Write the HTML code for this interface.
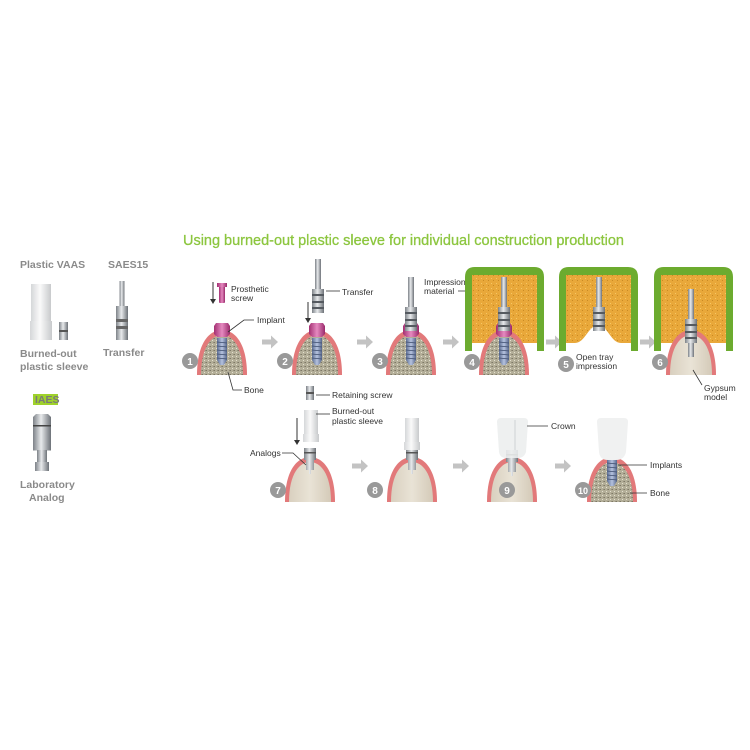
<!DOCTYPE html>
<html><head><meta charset="utf-8"><style>
html,body{margin:0;padding:0;background:#fff}
svg{display:block}
text{font-family:"Liberation Sans",sans-serif}
</style></head><body>
<svg width="750" height="750" viewBox="0 0 750 750" xmlns="http://www.w3.org/2000/svg">
<defs>
<pattern id="bone" width="4" height="4" patternUnits="userSpaceOnUse">
<rect width="4" height="4" fill="#b3ae98"/><rect x="0" y="0" width="1" height="1" fill="#7d7866"/><rect x="2" y="2" width="1" height="1" fill="#e4e0cf"/><rect x="3" y="0" width="1" height="1" fill="#958f7b"/>
</pattern>
<pattern id="foam" width="5" height="5" patternUnits="userSpaceOnUse">
<rect width="5" height="5" fill="#e9a83a"/><rect x="1" y="1" width="1" height="1" fill="#f6c766"/><rect x="3" y="3" width="1" height="1" fill="#c98a24"/>
</pattern>
<linearGradient id="metal" x1="0" x2="1"><stop offset="0" stop-color="#7d8288"/><stop offset="0.45" stop-color="#e8eaec"/><stop offset="1" stop-color="#6d7278"/></linearGradient>
<linearGradient id="blue" x1="0" x2="1"><stop offset="0" stop-color="#5d6f95"/><stop offset="0.5" stop-color="#b5c2de"/><stop offset="1" stop-color="#56678c"/></linearGradient>
<linearGradient id="pink" x1="0" x2="1"><stop offset="0" stop-color="#a32f72"/><stop offset="0.5" stop-color="#e58ac0"/><stop offset="1" stop-color="#9a2a6b"/></linearGradient>
<linearGradient id="white" x1="0" x2="1"><stop offset="0" stop-color="#d5d7d9"/><stop offset="0.45" stop-color="#fafafa"/><stop offset="1" stop-color="#c8cacc"/></linearGradient>
<linearGradient id="gyp" x1="0" x2="1"><stop offset="0" stop-color="#d9d0bf"/><stop offset="0.5" stop-color="#e9e3d6"/><stop offset="1" stop-color="#d4cab8"/></linearGradient>
<g id="gumB"><path d="M-25,45 C-25,12 -12,0 0,0 C12,0 25,12 25,45 Z" fill="#e2797a"/><path d="M-21,45 C-21,16 -10,5 0,5 C10,5 21,16 21,45 Z" fill="url(#bone)"/></g>
<g id="gumG"><path d="M-25,45 C-25,12 -12,0 0,0 C12,0 25,12 25,45 Z" fill="#e2797a"/><path d="M-21,45 C-21,16 -10,5 0,5 C10,5 21,16 21,45 Z" fill="url(#gyp)"/></g>
<g id="impl"><path d="M-5,0 h10 v22 l-3,5 h-4 l-3,-5 z" fill="url(#blue)"/><g stroke="#3e4d6e" stroke-width="0.8"><line x1="-5" y1="4" x2="5" y2="5"/><line x1="-5" y1="8" x2="5" y2="9"/><line x1="-5" y1="12" x2="5" y2="13"/><line x1="-5" y1="16" x2="5" y2="17"/><line x1="-5" y1="20" x2="5" y2="21"/></g></g>
<g id="abut"><path d="M-8,3 l2,-3 h12 l2,3 v8 l-3,3 h-10 l-3,-3 z" fill="url(#pink)"/></g>
<g id="transfer"><rect x="-3" y="0" width="6" height="30" fill="url(#metal)"/><rect x="-6" y="30" width="12" height="24" fill="url(#metal)"/><g fill="#555a60"><rect x="-6" y="35" width="12" height="2"/><rect x="-6" y="42" width="12" height="2"/><rect x="-6" y="48" width="12" height="2"/></g></g>
<g id="analog"><path d="M-6,0 h12 v12 h-2 v10 h-3 v4 h-2 v-4 h-3 v-10 h-2 z" fill="url(#metal)"/><rect x="-6" y="4" width="12" height="1.5" fill="#555"/></g>
<g id="arrow"><path d="M0,-2.5 h9 v-4 l7,6.5 l-7,6.5 v-4 h-9 z" fill="#c3c3c3"/></g>
<g id="tray"><path d="M0,84 V10 Q0,0 10,0 H69 Q79,0 79,10 V84 H72 V12 Q72,8 68,8 H11 Q7,8 7,12 V84 Z" fill="#6cab2f"/><rect x="7" y="8" width="65" height="68" fill="url(#foam)"/></g>
</defs>

<text x="183" y="245" font-size="14.5" fill="#8cc63f" stroke="#8cc63f" stroke-width="0.3" textLength="441">Using burned-out plastic sleeve for individual construction production</text>

<g font-size="10.5" font-weight="bold" fill="#8a8a8a">
<text x="20" y="268">Plastic VAAS</text>
<text x="108" y="268">SAES15</text>
<text x="20" y="357">Burned-out</text>
<text x="20" y="370">plastic sleeve</text>
<text x="103" y="356">Transfer</text>
<rect x="33" y="394" width="25" height="11" fill="#9fd22b"/>
<text x="35" y="403" fill="#7a7a7a">IAES</text>
<text x="20" y="488">Laboratory</text>
<text x="29" y="501">Analog</text>
</g>
<rect x="31" y="284" width="20" height="37" fill="url(#white)"/>
<rect x="30" y="321" width="22" height="19" fill="url(#white)"/>
<rect x="59" y="322" width="9" height="18" fill="url(#metal)"/><rect x="59" y="330" width="9" height="2" fill="#555"/>
<g transform="translate(122,281)"><rect x="-2.5" y="0" width="5" height="25" fill="url(#metal)"/><rect x="-6" y="25" width="12" height="34" fill="url(#metal)"/><rect x="-6" y="38" width="12" height="3" fill="#666"/><rect x="-6" y="45" width="12" height="3" fill="#666"/></g>
<g transform="translate(42,414)"><path d="M-9,3 l3,-3 h12 l3,3 v8 h-18 z" fill="url(#metal)"/><rect x="-9" y="11" width="18" height="1.5" fill="#444"/><rect x="-9" y="12.5" width="18" height="24" fill="url(#metal)"/><rect x="-5" y="36" width="10" height="12" fill="url(#metal)"/><rect x="-7" y="48" width="14" height="9" fill="url(#metal)"/></g>

<use href="#gumB" x="222" y="330"/>
<use href="#impl" x="222" y="338"/>
<use href="#abut" x="222" y="323"/>
<rect x="219" y="283" width="6" height="20" rx="1" fill="url(#pink)"/><rect x="217" y="283" width="10" height="4" fill="url(#pink)"/>
<path d="M213,282 V301" stroke="#333" stroke-width="1"/><path d="M210,299 l3,5 l3,-5z" fill="#333"/>
<circle cx="190" cy="361" r="8" fill="#999"/><text x="190" y="365" font-size="10" fill="#fff" text-anchor="middle" font-weight="bold">1</text>
<g font-size="8.5" fill="#333">
<text x="231" y="292">Prosthetic</text><text x="231" y="301">screw</text>
<text x="257" y="323">Implant</text>
<text x="244" y="393">Bone</text>
</g>
<path d="M254,320 H244 L228,332" stroke="#333" stroke-width="0.8" fill="none"/>
<path d="M242,390 H233 L228,372" stroke="#333" stroke-width="0.8" fill="none"/>
<use href="#arrow" x="262" y="342"/>

<use href="#gumB" x="317" y="330"/>
<use href="#impl" x="317" y="338"/>
<use href="#abut" x="317" y="323"/>
<use href="#transfer" x="318" y="259"/>
<path d="M308,302 V320" stroke="#333" stroke-width="1"/><path d="M305,318 l3,5 l3,-5z" fill="#333"/>
<circle cx="285" cy="361" r="8" fill="#999"/><text x="285" y="365" font-size="10" fill="#fff" text-anchor="middle" font-weight="bold">2</text>
<path d="M326,291 H340" stroke="#333" stroke-width="0.8"/>
<text x="342" y="295" font-size="8.5" fill="#333">Transfer</text>
<use href="#arrow" x="357" y="342"/>

<use href="#gumB" x="411" y="330"/>
<use href="#impl" x="411" y="338"/>
<use href="#abut" x="411" y="323"/>
<use href="#transfer" x="411" y="277"/>
<circle cx="380" cy="361" r="8" fill="#999"/><text x="380" y="365" font-size="10" fill="#fff" text-anchor="middle" font-weight="bold">3</text>
<text x="424" y="285" font-size="8.5" fill="#333">Impression</text>
<text x="424" y="294" font-size="8.5" fill="#333">material</text>
<path d="M458,291 H478" stroke="#333" stroke-width="0.8"/>
<use href="#arrow" x="443" y="342"/>

<use href="#tray" x="465" y="267"/>
<use href="#gumB" x="504" y="330"/>
<use href="#impl" x="504" y="338"/>
<use href="#abut" x="504" y="323"/>
<use href="#transfer" x="504" y="277"/>
<circle cx="472" cy="362" r="8" fill="#999"/><text x="472" y="366" font-size="10" fill="#fff" text-anchor="middle" font-weight="bold">4</text>
<use href="#arrow" x="546" y="342"/>

<use href="#tray" x="559" y="267"/>
<path d="M575,343 C585,343 588,326 598,325 C608,326 611,343 621,343 Z" fill="#fff"/>
<rect x="580" y="343" width="40" height="2" fill="#fff"/>
<use href="#transfer" x="599" y="277"/>
<circle cx="566" cy="364" r="8" fill="#999"/><text x="566" y="368" font-size="10" fill="#fff" text-anchor="middle" font-weight="bold">5</text>
<text x="576" y="360" font-size="8.5" fill="#333">Open tray</text>
<text x="576" y="369" font-size="8.5" fill="#333">impression</text>
<use href="#arrow" x="640" y="342"/>

<use href="#tray" x="654" y="267"/>
<use href="#gumG" x="691" y="330"/>
<rect x="688" y="337" width="6" height="20" fill="url(#metal)"/>
<use href="#transfer" x="691" y="289"/>
<circle cx="660" cy="362" r="8" fill="#999"/><text x="660" y="366" font-size="10" fill="#fff" text-anchor="middle" font-weight="bold">6</text>
<path d="M693,370 L702,385" stroke="#333" stroke-width="0.8"/>
<text x="704" y="391" font-size="8.5" fill="#333">Gypsum</text>
<text x="704" y="400" font-size="8.5" fill="#333">model</text>

<rect x="306" y="386" width="8" height="14" fill="url(#metal)"/><rect x="306" y="392" width="8" height="2" fill="#555"/>
<path d="M316,395 H330" stroke="#333" stroke-width="0.8"/>
<text x="332" y="398" font-size="8.5" fill="#333">Retaining screw</text>
<rect x="304" y="410" width="14" height="24" fill="url(#white)"/><rect x="303" y="434" width="16" height="8" fill="url(#white)"/>
<path d="M316,414 H330" stroke="#333" stroke-width="0.8"/>
<text x="332" y="414" font-size="8.5" fill="#333">Burned-out</text>
<text x="332" y="424" font-size="8.5" fill="#333">plastic sleeve</text>
<path d="M297,418 V442" stroke="#333" stroke-width="1"/><path d="M294,440 l3,5 l3,-5z" fill="#333"/>
<use href="#gumG" x="310" y="457"/>
<use href="#analog" x="310" y="448"/>
<text x="250" y="456" font-size="8.5" fill="#333">Analogs</text>
<path d="M282,453 H293 L306,465" stroke="#333" stroke-width="0.8" fill="none"/>
<circle cx="278" cy="490" r="8" fill="#999"/><text x="278" y="494" font-size="10" fill="#fff" text-anchor="middle" font-weight="bold">7</text>
<use href="#arrow" x="352" y="466"/>

<use href="#gumG" x="412" y="457"/>
<use href="#analog" x="412" y="448"/>
<rect x="405" y="418" width="14" height="24" fill="url(#white)"/><rect x="404" y="442" width="16" height="8" fill="url(#white)"/>
<circle cx="375" cy="490" r="8" fill="#999"/><text x="375" y="494" font-size="10" fill="#fff" text-anchor="middle" font-weight="bold">8</text>
<use href="#arrow" x="453" y="466"/>

<use href="#gumG" x="512" y="457"/>
<use href="#analog" x="512" y="450"/>
<path d="M497,422 Q497,418 501,418 H524 Q528,418 528,422 L526,452 Q524,458 518,458 H506 Q500,458 499,452 Z" fill="#eceeee" opacity="0.9"/>
<path d="M515,420 V450" stroke="#cfd2d3" stroke-width="1"/>
<circle cx="507" cy="490" r="8" fill="#999"/><text x="507" y="494" font-size="10" fill="#fff" text-anchor="middle" font-weight="bold">9</text>
<path d="M527,426 H548" stroke="#333" stroke-width="0.8"/>
<text x="551" y="429" font-size="8.5" fill="#333">Crown</text>
<use href="#arrow" x="555" y="466"/>

<use href="#gumB" x="612" y="457"/>
<use href="#impl" x="612" y="459"/>
<path d="M597,422 Q597,418 601,418 H624 Q628,418 628,422 L626,452 Q624,460 616,460 H608 Q600,460 599,452 Z" fill="#f0f1f1"/>
<circle cx="583" cy="490" r="8" fill="#999"/><text x="583" y="494" font-size="9" fill="#fff" text-anchor="middle" font-weight="bold">10</text>
<path d="M618,465 H647" stroke="#333" stroke-width="0.8"/>
<text x="650" y="468" font-size="8.5" fill="#333">Implants</text>
<path d="M630,493 H647" stroke="#333" stroke-width="0.8"/>
<text x="650" y="496" font-size="8.5" fill="#333">Bone</text>
</svg>
</body></html>
